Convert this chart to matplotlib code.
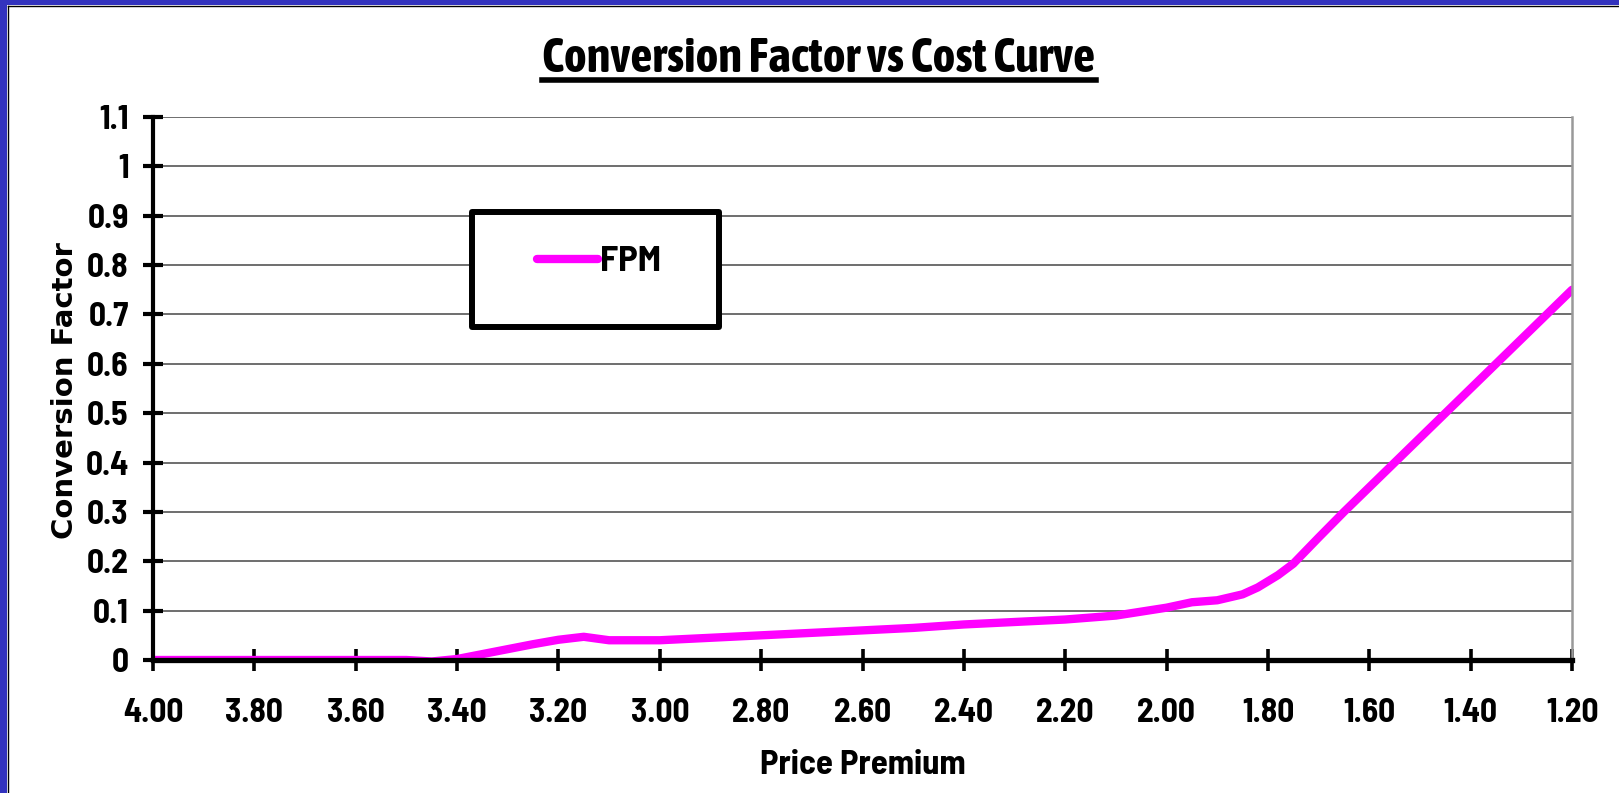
import matplotlib
matplotlib.use("Agg")
import matplotlib.pyplot as plt
from matplotlib import font_manager
from matplotlib.patches import Rectangle
from matplotlib.lines import Line2D
from matplotlib.ticker import FormatStrFormatter, MultipleLocator, FuncFormatter

# ---- data ----
price_premium = [4.00, 3.90, 3.80, 3.70, 3.60, 3.50, 3.45, 3.40, 3.35, 3.30, 3.25,
                 3.20, 3.15, 3.10, 3.05, 3.00, 2.90, 2.80, 2.70, 2.60, 2.50, 2.40,
                 2.30, 2.20, 2.10, 2.00, 1.95, 1.90, 1.85, 1.82, 1.78, 1.75, 1.70,
                 1.65, 1.60, 1.50, 1.40, 1.30, 1.20]
fpm = [0.000, 0.000, 0.000, 0.000, 0.000, 0.000, -0.003, 0.002, 0.012, 0.022, 0.032,
       0.041, 0.047, 0.040, 0.040, 0.040, 0.045, 0.050, 0.055, 0.060, 0.065, 0.072,
       0.077, 0.082, 0.090, 0.106, 0.117, 0.121, 0.133, 0.147, 0.172, 0.195, 0.248,
       0.300, 0.350, 0.450, 0.550, 0.650, 0.750]
series_name = "FPM"
title_text = "Conversion Factor vs Cost Curve"
x_label = "Price Premium"
y_label = "Conversion Factor"

W, H = 1619, 793
fig = plt.figure(figsize=(W / 100, H / 100), dpi=100)
fig.patch.set_facecolor("white")

names = sorted({f.name for f in font_manager.fontManager.ttflist})
base = "Liberation Sans"


def pick(pred):
    for n in names:
        if pred(n.lower()):
            return n
    return None


narrow_exact = pick(lambda n: n in ("liberation sans narrow", "arial narrow"))
semi = narrow_exact or pick(lambda n: "semicondensed" in n.replace(" ", ""))
cond = narrow_exact or pick(lambda n: "condensed" in n and "semi" not in n
                            and "extra" not in n and "ultra" not in n)
tick_family = semi or cond or base
title_family = cond or semi or base
if narrow_exact:
    tick_size, title_size, label_size, leg_size = 24, 30, 24, 24
else:
    tick_size = 24 if semi else (26 if cond else 21)
    title_size = 35 if cond else (32 if semi else 25.5)
    label_size = 25 if semi else 21
    leg_size = 26.5 if semi else 21
label_family = tick_family if (semi or narrow_exact) else base

# blue slide border (left and top)
blue = "#3333BE"
fig.patches.append(Rectangle((0, 0), 7 / W, 1, transform=fig.transFigure,
                             facecolor=blue, edgecolor="none", zorder=0))
fig.patches.append(Rectangle((0, 1 - 5 / H), 1, 5 / H, transform=fig.transFigure,
                             facecolor=blue, edgecolor="none", zorder=0))
fig.lines.append(Line2D([7.5 / W, 7.5 / W], [0, 1 - 5.5 / H], transform=fig.transFigure,
                        color="black", lw=1))
fig.lines.append(Line2D([7.5 / W, 1], [1 - 5.5 / H, 1 - 5.5 / H], transform=fig.transFigure,
                        color="black", lw=1))

ax = fig.add_axes([153 / W, 1 - 660 / H, (1572 - 153) / W, (660 - 117) / H])
ax.plot(price_premium, fpm, color="#FF00FF", lw=6, solid_capstyle="round",
        solid_joinstyle="round", label=series_name, zorder=2)

ax.set_xlim(4.0, 1.2)
ax.set_ylim(0, 1.1)
ax.xaxis.set_major_locator(MultipleLocator(0.2))
ax.yaxis.set_major_locator(MultipleLocator(0.1))
ax.xaxis.set_major_formatter(FormatStrFormatter("%.2f"))
ax.yaxis.set_major_formatter(FuncFormatter(
    lambda v, p: ("%.1f" % v).rstrip("0").rstrip(".") if abs(v) > 1e-9 else "0"))

ax.grid(axis="y", color="#555555", lw=1.2)
ax.set_axisbelow(True)

ax.spines["top"].set_visible(False)
ax.spines["right"].set_color("#999999")
ax.spines["right"].set_linewidth(1.8)
ax.spines["left"].set_linewidth(3)
ax.spines["bottom"].set_linewidth(3.8)

ax.tick_params(axis="x", direction="inout", length=16, width=2.6, pad=19,
               labelsize=tick_size)
ax.tick_params(axis="y", direction="inout", length=15, width=3, pad=10,
               labelsize=tick_size)
for lab in ax.get_xticklabels() + ax.get_yticklabels():
    lab.set_fontfamily(tick_family)
    lab.set_fontweight("bold")

ax.set_xlabel(x_label, fontsize=label_size, fontweight="bold", family=label_family,
              labelpad=16)
ax.set_ylabel(y_label, fontsize=21, fontweight="bold", family="DejaVu Sans")
ax.yaxis.set_label_coords(79 / W, 0.507, transform=fig.transFigure)

# title
title = fig.text(819 / W, 1 - 72 / H, title_text, ha="center", va="baseline",
                 fontsize=title_size, fontweight="bold", family=title_family)

# legend box (drawn in the axes so the legend can sit on top of it)
box = Rectangle((472 / W, 1 - 327 / H), (719 - 472) / W, (327 - 212) / H,
                transform=fig.transFigure, facecolor="white", edgecolor="black",
                lw=4.3, joinstyle="round", zorder=4, clip_on=False)
ax.add_patch(box)
leg = ax.legend(loc="center", bbox_to_anchor=(599 / W, 1 - 262 / H),
                bbox_transform=fig.transFigure, frameon=False,
                prop={"family": label_family, "weight": "bold", "size": leg_size},
                handlelength=61 / (leg_size * 100 / 72), handletextpad=0.08)
leg.set_zorder(6)
for t in leg.get_texts():
    t.set_fontweight("bold")
    t.set_fontfamily(label_family)
for h in leg.get_lines():
    h.set_solid_capstyle("round")

fig.canvas.draw()
bb = title.get_window_extent()
uy = 1 - 80 / H
fig.lines.append(Line2D([bb.x0 / W, bb.x1 / W], [uy, uy], transform=fig.transFigure,
                        color="black", lw=4))

fig.savefig("out.png", dpi=100, facecolor="white")
